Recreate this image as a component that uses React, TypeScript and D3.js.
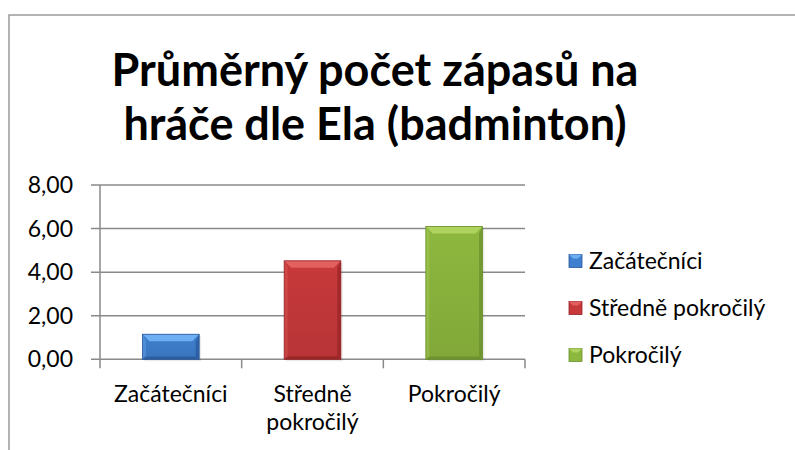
import React from "react";
import * as d3 from "d3";

const categories = ["Začátečníci", "Středně pokročilý", "Pokročilý"];
const values = [1.15, 4.52, 6.1];
const yTicks = [0, 2, 4, 6, 8];
const titleLines = ["Průměrný počet zápasů na", "hráče dle Ela (badminton)"];
const colors = [
  { main: "#3F7FCF", light: "#6EAEF2", dark: "#28589A" },
  { main: "#C8393B", light: "#E2605F", dark: "#942326" },
  { main: "#8DB83E", light: "#AED35E", dark: "#6A8F2C" },
];

const W = 795;
const H = 450;
const FONT = "Lato, 'Open Sans', sans-serif";

function wrapLabel(s: string): string[] {
  if (s.length > 12 && s.includes(" ")) return s.split(" ");
  return [s];
}

export default function App() {
  const x = d3.scaleBand<string>().domain(categories).range([100, 525]).padding(0);
  const y = d3.scaleLinear().domain([0, 8]).range([359.3, 185]);
  const bw = x.bandwidth() * 0.4;
  const fmt = (v: number) => v.toFixed(2).replace(".", ",");
  const grid = "#8a8a8a";

  return (
    <svg
      width={W}
      height={H}
      style={{ position: "absolute", left: 0, top: 0, background: "#fff" }}
      fontFamily={FONT}
    >
      <defs>
        {colors.map((c, i) => (
          <linearGradient key={i} id={`g${i}`} x1="0" y1="0" x2="0" y2="1">
            <stop offset="0" stopColor={c.main} />
            <stop offset="1" stopColor={d3.color(c.main)!.darker(0.25).formatHex()} />
          </linearGradient>
        ))}
      </defs>
      <rect x={9} y={15} width={800} height={460} fill="#fff" stroke="#9a9a9a" strokeWidth={1.5} />

      {titleLines.map((t, i) => (
        <text
          key={i}
          x={375}
          y={86 + i * 54}
          textAnchor="middle"
          fontSize={45}
          fontWeight="bold"
          fill="#000"
        >
          {t}
        </text>
      ))}

      {/* gridlines */}
      {yTicks.map((t) => (
        <g key={t}>
          <line x1={91} x2={525} y1={y(t)} y2={y(t)} stroke={grid} strokeWidth={1.5} />
          <text x={73} y={y(t)} dy="0.35em" textAnchor="end" fontSize={23} fill="#000">
            {fmt(t)}
          </text>
        </g>
      ))}
      <line x1={100} x2={100} y1={y(8)} y2={y(0)} stroke={grid} strokeWidth={1.5} />
      {[...categories.map((c) => x(c)!), 525].map((px, i) => (
        <line key={i} x1={px} x2={px} y1={y(0)} y2={y(0) + 9} stroke={grid} strokeWidth={1.5} />
      ))}

      {/* bars */}
      {categories.map((c, i) => {
        const x0 = x(c)! + (x.bandwidth() - bw) / 2;
        const x1 = x0 + bw;
        const y0 = y(values[i]);
        const y1 = y(0);
        const b = Math.min(7, (y1 - y0) / 3);
        const col = colors[i];
        return (
          <g key={c}>
            <rect x={x0 + 2} y={y0 + 2} width={bw} height={y1 - y0} fill="#000" opacity={0.08} />
            <rect x={x0} y={y0} width={bw} height={y1 - y0} fill={`url(#g${i})`} />
            <polygon
              points={`${x0},${y0} ${x1},${y0} ${x1 - b},${y0 + b} ${x0 + b},${y0 + b}`}
              fill={col.light}
            />
            <polygon
              points={`${x0},${y0} ${x0 + b * 0.5},${y0 + b} ${x0 + b * 0.5},${y1 - b * 0.4} ${x0},${y1}`}
              fill={col.light}
              opacity={0.35}
            />
            <polygon
              points={`${x1},${y0} ${x1 - b * 0.5},${y0 + b} ${x1 - b * 0.5},${y1 - b * 0.4} ${x1},${y1}`}
              fill={col.dark}
              opacity={0.7}
            />
            <polygon
              points={`${x0},${y1} ${x0 + b * 0.5},${y1 - b * 0.4} ${x1 - b * 0.5},${y1 - b * 0.4} ${x1},${y1}`}
              fill={col.dark}
              opacity={0.8}
            />
            <rect x={x0} y={y0} width={bw} height={y1 - y0} fill="none" stroke={col.dark} strokeWidth={0.8} />
          </g>
        );
      })}

      {/* category labels */}
      {categories.map((c) => {
        const lines = wrapLabel(c);
        return (
          <text key={c} x={x(c)! + x.bandwidth() / 2} textAnchor="middle" fontSize={23} fill="#000">
            {lines.map((l, j) => (
              <tspan key={j} x={x(c)! + x.bandwidth() / 2} y={402 + j * 28}>
                {l}
              </tspan>
            ))}
          </text>
        );
      })}

      {/* legend */}
      {categories.map((c, i) => {
        const cy = 261 + i * 47;
        const col = colors[i];
        return (
          <g key={c}>
            <rect x={569} y={cy - 6.5} width={13} height={13} fill={col.main} stroke={col.dark} strokeWidth={0.8} />
            <polygon
              points={`${569},${cy - 6.5} ${582},${cy - 6.5} ${578},${cy - 2.5} ${573},${cy - 2.5}`}
              fill={col.light}
            />
            <text x={589} y={cy} dy="0.35em" fontSize={23} fill="#000">
              {c}
            </text>
          </g>
        );
      })}
    </svg>
  );
}
